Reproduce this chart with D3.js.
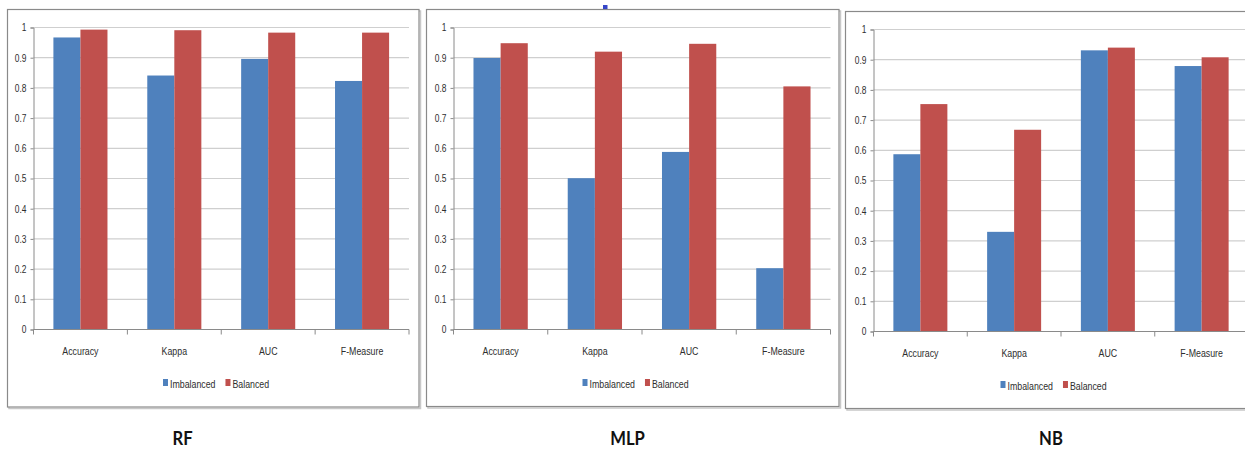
<!DOCTYPE html>
<html>
<head>
<meta charset="utf-8">
<script src="https://cdn.jsdelivr.net/npm/d3@7"></script>
<style>
  html, body { margin: 0; padding: 0; background: #ffffff; }
  svg { display: block; }
</style>
</head>
<body>
<svg id="chart" width="1245" height="449"></svg>
<script>
// Metric categories and series
const metrics = ["Accuracy", "Kappa", "AUC", "F-Measure"];
const seriesNames = ["Imbalanced", "Balanced"];
const yTickValues = [0, 0.1, 0.2, 0.3, 0.4, 0.5, 0.6, 0.7, 0.8, 0.9, 1];
const yTickLabels = ["0", "0.1", "0.2", "0.3", "0.4", "0.5", "0.6", "0.7", "0.8", "0.9", "1"];
const modelNames = ["RF", "MLP", "NB"];

// Scores per classifier, one array per series, in metric order
const rfImbalanced  = [0.967, 0.841, 0.896, 0.823];
const rfBalanced    = [0.993, 0.991, 0.983, 0.983];
const mlpImbalanced = [0.899, 0.501, 0.588, 0.203];
const mlpBalanced   = [0.948, 0.920, 0.946, 0.805];
const nbImbalanced  = [0.587, 0.330, 0.931, 0.879];
const nbBalanced    = [0.753, 0.668, 0.940, 0.908];

const scores = [
  [rfImbalanced, rfBalanced],
  [mlpImbalanced, mlpBalanced],
  [nbImbalanced, nbBalanced]
];

const colors = ["#4F81BD", "#C0504D"];
const labelFont = "'Liberation Sans', Arial, sans-serif";
const narrow = 0.8;   // horizontal squeeze for the condensed label face
const textColor = "#2e2e2e";

// Frame and plot geometry of each panel
const panels = [
  { box: [7.5, 9.5, 411.5, 397.5], plot: [33.5, 409, 27.5, 329.5], legendX: 163, titleX: 182.5 },
  { box: [426.5, 9.5, 412.5, 397], plot: [453.5, 830.5, 27.5, 329.5], legendX: 582.5, titleX: 627.5 },
  { box: [845.5, 11.5, 420, 397], plot: [873.5, 1248.5, 29.5, 331.5], legendX: 1000.5, titleX: 1051 }
];

const svg = d3.select("#chart");

function condensedText(sel, x, y, size, str, anchor) {
  return sel.append("text")
    .attr("transform", `translate(${x},${y}) scale(${narrow},1)`)
    .attr("text-anchor", anchor || "start")
    .attr("font-size", size)
    .style("font-family", labelFont)
    .attr("fill", textColor)
    .text(str);
}

panels.forEach((p, i) => {
  const g = svg.append("g");
  const [bx, by, bw, bh] = p.box;

  // Frame with soft shadow
  g.append("rect")
    .attr("x", bx + 1.5).attr("y", by + 1.5).attr("width", bw).attr("height", bh)
    .attr("fill", "none").attr("stroke", "#c8c8c8").attr("stroke-width", 1.5);
  g.append("rect")
    .attr("x", bx).attr("y", by).attr("width", bw).attr("height", bh)
    .attr("fill", "#ffffff").attr("stroke", "#8a8a8a").attr("stroke-width", 1.2);

  const [x0, x1, yTop, yBot] = p.plot;

  const x = d3.scaleBand().domain(metrics).range([x0, x1]).paddingInner(0.424).paddingOuter(0.212);
  const xs = d3.scaleBand().domain(seriesNames).range([0, x.bandwidth()]);
  const y = d3.scaleLinear().domain([0, 1]).range([yBot, yTop]);

  // Horizontal gridlines
  g.append("g").selectAll("line")
    .data(yTickValues.filter(v => v > 0))
    .join("line")
    .attr("x1", x0).attr("x2", x1)
    .attr("y1", d => y(d)).attr("y2", d => y(d))
    .attr("stroke", "#cfcfcf").attr("stroke-width", 1.2);

  // Bars
  const rows = metrics.map((m, k) => ({ metric: m, values: seriesNames.map((s, j) => ({ series: s, j: j, v: scores[i][j][k] })) }));
  g.append("g").selectAll("g")
    .data(rows)
    .join("g")
    .attr("transform", d => `translate(${x(d.metric)},0)`)
    .selectAll("rect")
    .data(d => d.values)
    .join("rect")
    .attr("x", d => xs(d.series))
    .attr("width", xs.bandwidth())
    .attr("y", d => y(d.v))
    .attr("height", d => y(0) - y(d.v))
    .attr("fill", d => colors[d.j]);

  // Y axis
  const yAxis = d3.axisLeft(y)
    .tickValues(yTickValues)
    .tickFormat((d, k) => yTickLabels[k])
    .tickSize(3).tickPadding(4);
  const ya = g.append("g").attr("transform", `translate(${x0},0)`).call(yAxis);
  ya.select(".domain").attr("stroke", "#8a8a8a");
  ya.selectAll(".tick line").attr("stroke", "#8a8a8a");
  ya.selectAll(".tick text")
    .attr("x", null)
    .attr("transform", `translate(-7,0) scale(${narrow},1)`)
    .attr("font-size", 10.5)
    .style("font-family", labelFont)
    .attr("fill", textColor);

  // X axis with boundary ticks between categories
  const xa = g.append("g").attr("transform", `translate(0,${yBot})`);
  xa.append("line").attr("x1", x0).attr("x2", x1).attr("stroke", "#8a8a8a");
  const step = x.step();
  xa.selectAll("line.b")
    .data(d3.range(metrics.length + 1))
    .join("line").attr("class", "b")
    .attr("x1", k => x0 + k * step).attr("x2", k => x0 + k * step)
    .attr("y1", 0).attr("y2", 5)
    .attr("stroke", "#8a8a8a");
  metrics.forEach(m => condensedText(xa, x(m) + x.bandwidth() / 2, 25.5, 11, m, "middle"));

  // Legend
  const lg = g.append("g").attr("transform", `translate(${p.legendX},${yBot + 54})`);
  let lx = 0;
  seriesNames.forEach((s, j) => {
    lg.append("rect").attr("x", lx).attr("y", -4.5).attr("width", 5).attr("height", 7).attr("fill", colors[j]);
    const t = condensedText(lg, lx + 7, 4, 11, s);
    lx += 7 + t.node().getComputedTextLength() * narrow + 10;
  });

  // Classifier title under the panel
  svg.append("text")
    .attr("transform", `translate(${p.titleX},444.5) scale(0.9,1)`)
    .attr("text-anchor", "middle")
    .attr("font-size", 18.5)
    .attr("font-weight", 700)
    .style("font-family", "Lato, 'Open Sans', sans-serif")
    .attr("fill", "#111111")
    .text(modelNames[i]);
});

// Small blue mark above the middle panel
svg.append("rect").attr("x", 603).attr("y", 5).attr("width", 4.5).attr("height", 4).attr("fill", "#3646c8");
</script>
</body>
</html>
